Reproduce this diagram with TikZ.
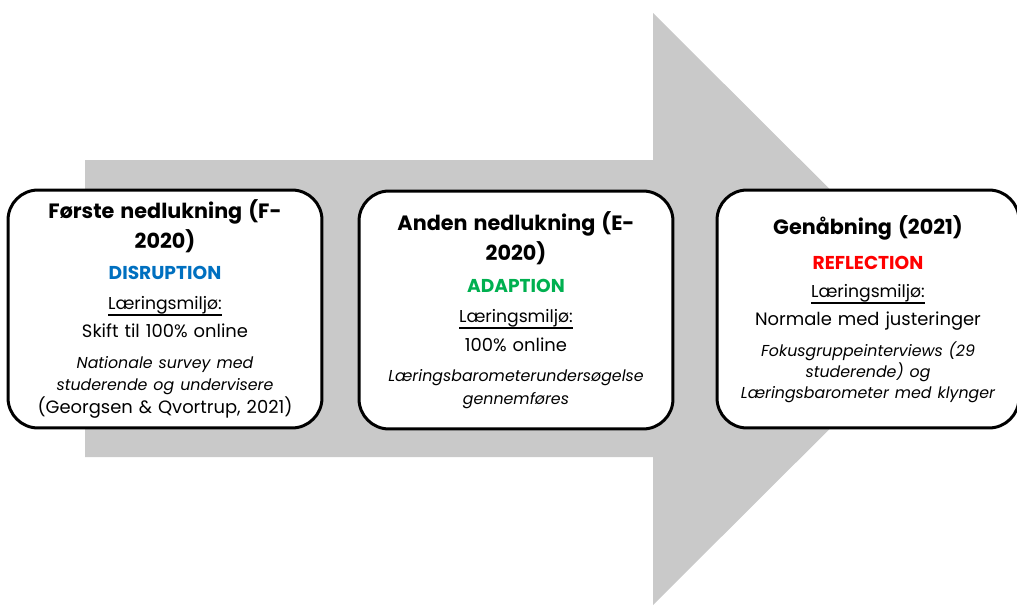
\documentclass[tikz,border=0pt]{standalone}
\usepackage{fontspec}
\setmainfont{Poppins}

\definecolor{arrowgray}{RGB}{201,201,201}
\definecolor{disruptblue}{RGB}{0,112,192}
\definecolor{adaptgreen}{RGB}{0,176,80}
\definecolor{reflectred}{RGB}{255,0,0}

\newcommand{\phasehead}[1]{{\fontsize{11.8}{13}\selectfont\bfseries #1}}
\newcommand{\phasemode}[2]{{\fontsize{10.6}{13}\selectfont\bfseries\color{#1}#2}}
\newcommand{\phaseenv}{{\fontsize{9.8}{13}\selectfont
  \leavevmode\vtop{\hbox{Læringsmiljø:}\kern0.2pt\hrule height 0.9pt}}}
\newcommand{\phasenote}[1]{{\fontsize{9}{13}\selectfont\itshape #1}}

\begin{document}
\begin{tikzpicture}[x=0.02cm, y=-0.02cm,
  phase/.style={draw, line width=1.7pt, fill=white, rounded corners=0.6cm,
    align=center, text width=6cm, inner xsep=0.14cm,
    minimum height=4.76cm, font=\fontsize{10.2}{13}\selectfont}]
  \useasboundingbox (0,0) rectangle (1017,605);
  % the big arrow behind the boxes
  \fill[arrowgray] (85,160) -- (653,160) -- (653,13) -- (950,309)
    -- (653,605) -- (653,457) -- (85,457) -- cycle;
  \node[phase] (first) at (165,309) {
    \phasehead{Første nedlukning (F-}\\[2.3pt]
    \phasehead{2020)}\\[4.5pt]
    \phasemode{disruptblue}{DISRUPTION}\\[4pt]
    \phaseenv\\[3pt]
    Skift til 100\% online\\[4.5pt]
    \phasenote{Nationale survey med}\\
    \phasenote{studerende og undervisere}\\
    (Georgsen \& Qvortrup, 2021)};
  \node[phase] (second) at (516,310) {
    \phasehead{Anden nedlukning (E-}\\[2.3pt]
    \phasehead{2020)}\\[5pt]
    \phasemode{adaptgreen}{ADAPTION}\\[4pt]
    \phaseenv\\[4pt]
    100\% online\\[4pt]
    \phasenote{Læringsbarometerundersøgelse}\\
    \phasenote{gennemføres}};
  \node[phase, text width=5.76cm] (third) at (868,309) {
    \phasehead{Genåbning (2021)}\\[7pt]
    \phasemode{reflectred}{REFLECTION}\\[3pt]
    \phaseenv\\[3pt]
    Normale med justeringer\\[4.5pt]
    \phasenote{Fokusgruppeinterviews (29}\\[-1pt]
    \phasenote{studerende) og}\\[-1pt]
    \phasenote{Læringsbarometer med klynger}};
\end{tikzpicture}
\end{document}
